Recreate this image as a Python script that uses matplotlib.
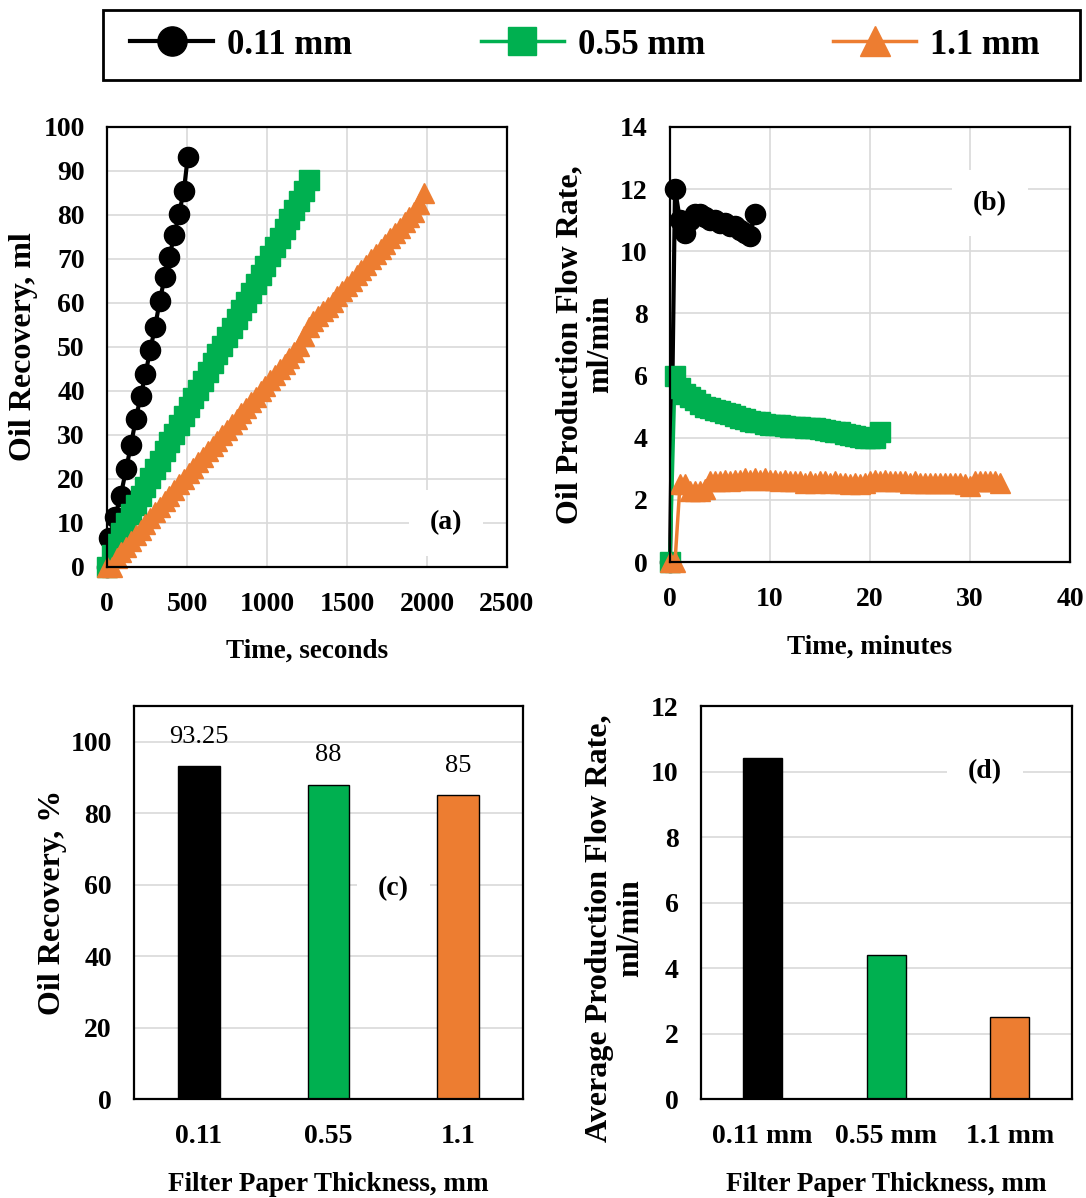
import matplotlib
matplotlib.use("Agg")
import matplotlib.pyplot as plt
from matplotlib.patches import Rectangle

plt.rcParams['font.family'] = ['Liberation Serif', 'DejaVu Serif']
plt.rcParams['font.weight'] = 'bold'

BLACK = '#000000'
GREEN = '#00B050'
ORANGE = '#ED7D31'
GRID = '#D9D9D9'

series_labels = ['0.11 mm', '0.55 mm', '1.1 mm']

# ---- (a) cumulative oil recovery vs time (s) ----
a_black_t = [0, 15, 50, 85, 120, 150, 180, 210, 240, 270, 300, 330, 360, 390, 420, 450, 480, 505]
a_black_v = [0, 6.5, 11.4, 16.1, 22.3, 27.8, 33.6, 38.8, 43.8, 49.3, 54.5, 60.5, 65.8, 70.5, 75.4, 80.3, 85.4, 93.25]

a_green_t = [0, 30, 60, 90, 120, 150, 180, 210, 240, 270, 300, 330, 360, 390, 420, 450, 480, 510, 540, 570,
             600, 630, 660, 690, 720, 750, 780, 810, 840, 870, 900, 930, 960, 990, 1020, 1050, 1080, 1110,
             1140, 1170, 1200, 1230, 1260]
a_green_v = [0, 2.8, 5.3, 7.7, 10.0, 12.1, 14.2, 16.2, 18.2, 20.2, 22.2, 24.2, 26.3, 28.3, 30.3, 32.3, 34.3,
             36.3, 38.3, 40.3, 42.3, 44.3, 46.3, 48.3, 50.3, 52.3, 54.3, 56.3, 58.3, 60.3, 62.3, 64.3, 66.4,
             68.5, 70.6, 72.7, 74.8, 76.9, 79.0, 81.1, 83.2, 85.4, 88.0]

a_orange_t = [0, 30, 60, 90, 120, 150, 180, 210, 240, 270, 300, 330, 360, 390, 420, 450, 480, 510, 540, 570,
              600, 630, 660, 690, 720, 750, 780, 810, 840, 870, 900, 930, 960, 990, 1020, 1050, 1080, 1110,
              1140, 1170, 1200, 1230, 1260, 1290, 1320, 1350, 1380, 1410, 1440, 1470, 1500, 1530, 1560,
              1590, 1620, 1650, 1680, 1710, 1740, 1770, 1800, 1830, 1860, 1890, 1920, 1950, 1980]
a_orange_v = [0.0, 0.0, 2.0, 3.3, 4.6, 5.9, 7.2, 8.5, 9.8, 11.1, 12.4, 13.6, 14.9, 16.2, 17.5, 18.8, 20.0,
              21.3, 22.5, 23.8, 25.0, 26.3, 27.5, 28.7, 30.0, 31.2, 32.4, 33.7, 34.9, 36.2, 37.4, 38.7, 39.9,
              41.2, 42.4, 43.7, 44.9, 46.2, 47.5, 48.8, 50.2, 52.5, 54.5, 55.8, 57.0, 58.1, 59.2, 60.3, 61.5,
              62.7, 63.9, 65.1, 66.3, 67.5, 68.7, 69.9, 71.1, 72.3, 73.5, 74.7, 75.9, 77.1, 78.3, 79.5, 80.7,
              82.5, 85.0]

# ---- (b) production flow rate vs time (min) ----
b_black_t = [0, 0.5, 1.0, 1.5, 2.0, 2.5, 3.0, 3.5, 4.0, 4.5, 5.0, 5.5, 6.0, 6.5, 7.0, 7.5, 8.0, 8.5]
b_black_v = [0, 12.0, 11.0, 10.6, 11.0, 11.2, 11.2, 11.1, 11.0, 11.0, 10.9, 10.9, 10.8, 10.8, 10.7, 10.6, 10.5, 11.2]

b_green_t = [0, 0.5, 1.0, 1.5, 2.0, 2.5, 3.0, 3.5, 4.0, 4.5, 5.0, 5.5, 6.0, 6.5, 7.0, 7.5, 8.0, 8.5, 9.0, 9.5,
             10.0, 10.5, 11.0, 11.5, 12.0, 12.5, 13.0, 13.5, 14.0, 14.5, 15.0, 15.5, 16.0, 16.5, 17.0, 17.5,
             18.0, 18.5, 19.0, 19.5, 20.0, 20.5, 21.0]
b_green_v = [0, 6.0, 5.6, 5.4, 5.3, 5.2, 5.1, 5.0, 4.95, 4.9, 4.85, 4.8, 4.75, 4.7, 4.65, 4.6, 4.55, 4.5, 4.5,
             4.45, 4.42, 4.4, 4.4, 4.38, 4.36, 4.35, 4.34, 4.32, 4.3, 4.3, 4.28, 4.25, 4.22, 4.2, 4.17, 4.13,
             4.1, 4.06, 4.02, 4.0, 3.98, 4.0, 4.2]

b_orange_t = [0, 0.5, 1.0, 1.5, 2.0, 2.5, 3.0, 3.5, 4.0, 4.5, 5.0, 5.5, 6.0, 6.5, 7.0, 7.5, 8.0, 8.5, 9.0, 9.5,
              10.0, 10.5, 11.0, 11.5, 12.0, 12.5, 13.0, 13.5, 14.0, 14.5, 15.0, 15.5, 16.0, 16.5, 17.0, 17.5,
              18.0, 18.5, 19.0, 19.5, 20.0, 20.5, 21.0, 21.5, 22.0, 22.5, 23.0, 23.5, 24.0, 24.5, 25.0, 25.5,
              26.0, 26.5, 27.0, 27.5, 28.0, 28.5, 29.0, 29.5, 30.0, 30.5, 31.0, 31.5, 32.0, 32.5, 33.0]
b_orange_v = [0, 0, 2.5, 2.5, 2.3, 2.3, 2.3, 2.35, 2.6, 2.6, 2.6, 2.65, 2.6, 2.65, 2.65, 2.7, 2.65, 2.7, 2.65,
              2.7, 2.65, 2.65, 2.6, 2.65, 2.6, 2.6, 2.6, 2.55, 2.6, 2.55, 2.6, 2.6, 2.55, 2.6, 2.55, 2.55, 2.5,
              2.55, 2.5, 2.55, 2.6, 2.65, 2.6, 2.65, 2.6, 2.6, 2.6, 2.6, 2.55, 2.6, 2.55, 2.55, 2.55, 2.55,
              2.55, 2.55, 2.55, 2.55, 2.55, 2.5, 2.45, 2.6, 2.6, 2.6, 2.6, 2.6, 2.55]

# ---- (c) and (d) bars ----
c_categories = ['0.11', '0.55', '1.1']
c_values = [93.25, 88, 85]
c_value_labels = ['93.25', '88', '85']
d_categories = ['0.11 mm', '0.55 mm', '1.1 mm']
d_values = [10.4, 4.4, 2.5]

colors = [BLACK, GREEN, ORANGE]
markers = ['o', 's', '^']

W, H = 1086, 1198
fig = plt.figure(figsize=(W / 100, H / 100), dpi=100)


def px_axes(l, t, r, b):
    return fig.add_axes([l / W, 1 - b / H, (r - l) / W, (b - t) / H])


ax_a = px_axes(107, 127, 507, 567)
ax_b = px_axes(670, 127, 1070, 562)
ax_c = px_axes(134, 706, 522.7, 1099.3)
ax_d = px_axes(700.7, 706, 1071.7, 1099.3)

TICK_FS = 20
XLABEL_FS = 19.5
YLABEL_FS = 23


def style(ax, xgrid=True):
    for s in ax.spines.values():
        s.set_linewidth(1.6)
        s.set_color('black')
    ax.tick_params(length=0, labelsize=TICK_FS)
    ax.tick_params(axis='x', pad=18)
    ax.tick_params(axis='y', pad=16)
    ax.set_axisbelow(True)
    ax.grid(axis='y', color=GRID, linewidth=1.2)
    if xgrid:
        ax.grid(axis='x', color=GRID, linewidth=1.2)
    for lab in ax.get_xticklabels() + ax.get_yticklabels():
        lab.set_fontweight('bold')


def panel_tag(ax, x, y, s):
    ax.text(x, y, s, transform=ax.transAxes, fontsize=20, fontweight='bold',
            ha='center', va='center', bbox=dict(boxstyle='square,pad=0.75', fc='white', ec='none'))


lw = [3.0, 2.5, 2.5]
ms = [14.5, 14, 14.5]

# (a)
a_data = [(a_black_t, a_black_v), (a_green_t, a_green_v), (a_orange_t, a_orange_v)]
handles = []
for (t, v), c, m, w, s, lab in zip(a_data, colors, markers, lw, ms, series_labels):
    h, = ax_a.plot(t, v, color=c, marker=m, markersize=s, linewidth=w, clip_on=False, label=lab)
    handles.append(h)
ax_a.set_xlim(0, 2500)
ax_a.set_ylim(0, 100)
ax_a.set_xticks(range(0, 2501, 500))
ax_a.set_yticks(range(0, 101, 10))
style(ax_a)
ax_a.set_xlabel('Time, seconds', fontsize=XLABEL_FS, fontweight='bold')
ax_a.set_ylabel('Oil Recovery, ml', fontsize=YLABEL_FS, fontweight='bold')
ax_a.xaxis.set_label_coords(0.5, -0.163)
ax_a.yaxis.set_label_coords(-0.173, 0.5)
panel_tag(ax_a, 0.8475, 0.1, '(a)')

# (b)
b_data = [(b_black_t, b_black_v), (b_green_t, b_green_v), (b_orange_t, b_orange_v)]
for (t, v), c, m, w, s in zip(b_data, colors, markers, lw, ms):
    ax_b.plot(t, v, color=c, marker=m, markersize=s, linewidth=w, clip_on=False)
ax_b.set_xlim(0, 40)
ax_b.set_ylim(0, 14)
ax_b.set_xticks(range(0, 41, 10))
ax_b.set_yticks(range(0, 15, 2))
style(ax_b)
ax_b.set_xlabel('Time, minutes', fontsize=XLABEL_FS, fontweight='bold')
ax_b.set_ylabel('Oil Production Flow Rate,\nml/min', fontsize=YLABEL_FS, fontweight='bold',
                linespacing=1.1)
ax_b.xaxis.set_label_coords(0.5, -0.168)
ax_b.yaxis.set_label_coords(-0.1365, 0.5)
panel_tag(ax_b, 0.8, 0.825, '(b)')

# (c)
xc = range(len(c_categories))
bars = ax_c.bar(xc, c_values, width=0.32, color=colors, edgecolor='black', linewidth=1.0)
ax_c.set_xlim(-0.5, 2.5)
ax_c.set_ylim(0, 110)
ax_c.set_yticks(range(0, 101, 20))
ax_c.set_xticks(list(xc))
ax_c.set_xticklabels(c_categories)
style(ax_c, xgrid=False)
for rect, txt in zip(bars, c_value_labels):
    ax_c.annotate(txt, (rect.get_x() + rect.get_width() / 2, rect.get_height()),
                  xytext=(0, 21), textcoords='offset points', ha='center', va='center',
                  fontsize=19, fontweight='normal')
ax_c.set_xlabel('Filter Paper Thickness, mm', fontsize=XLABEL_FS, fontweight='bold')
ax_c.set_ylabel('Oil Recovery, %', fontsize=YLABEL_FS, fontweight='bold')
ax_c.xaxis.set_label_coords(0.5, -0.185)
ax_c.yaxis.set_label_coords(-0.172, 0.5)
panel_tag(ax_c, 0.667, 0.535, '(c)')

# (d)
xd = range(len(d_categories))
ax_d.bar(xd, d_values, width=0.315, color=colors, edgecolor='black', linewidth=1.0)
ax_d.set_xlim(-0.5, 2.5)
ax_d.set_ylim(0, 12)
ax_d.set_yticks(range(0, 13, 2))
ax_d.set_xticks(list(xd))
ax_d.set_xticklabels(d_categories)
style(ax_d, xgrid=False)
ax_d.set_xlabel('Filter Paper Thickness, mm', fontsize=XLABEL_FS, fontweight='bold')
ax_d.set_ylabel('Average Production Flow Rate,\nml/min', fontsize=YLABEL_FS, fontweight='bold',
                linespacing=1.1)
ax_d.xaxis.set_label_coords(0.5, -0.185)
ax_d.yaxis.set_label_coords(-0.149, 0.435)
panel_tag(ax_d, 0.766, 0.833, '(d)')

# legend (entries spread across the box; frame drawn as a figure rectangle)
leg = fig.legend(handles, series_labels, loc='center',
                 bbox_to_anchor=(130 / W, 1 - 80 / H, 910 / W, 70 / H),
                 ncol=3, mode='expand', frameon=False, borderaxespad=0, borderpad=0,
                 handlelength=2.4, handletextpad=0.4, markerscale=1.45,
                 prop={'weight': 'bold', 'size': 25})
fig.add_artist(Rectangle((103 / W, 1 - 80 / H), 977 / W, 70 / H, transform=fig.transFigure,
                         fill=False, edgecolor='black', linewidth=2.0))

fig.savefig('out.png', dpi=100)
